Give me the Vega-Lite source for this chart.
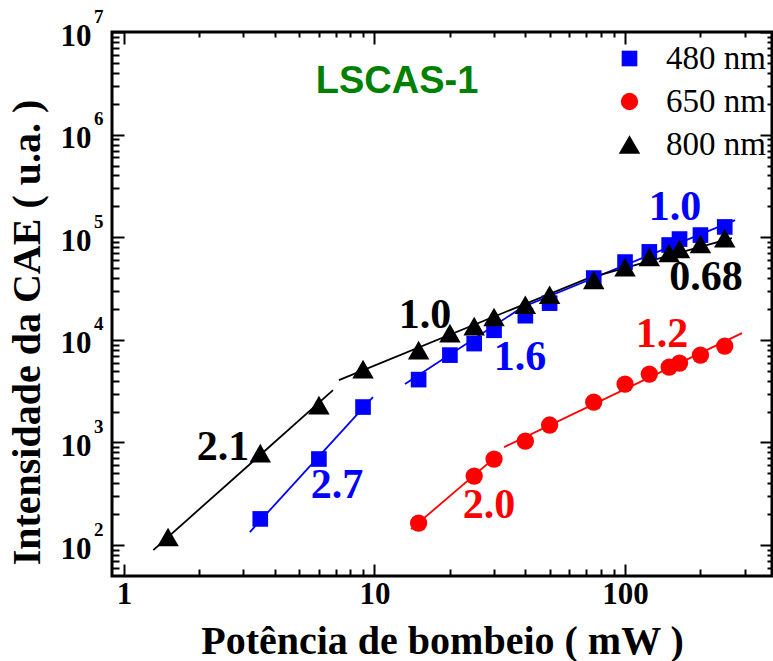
{
  "$schema": "https://vega.github.io/schema/vega-lite/v6.json",
  "width": 660,
  "height": 544,
  "autosize": {"type": "none"},
  "padding": {"left": 112, "top": 32, "right": 1, "bottom": 85},
  "background": "white",
  "config": {
    "view": {"stroke": "black", "strokeWidth": 3},
    "axis": {"grid": false, "domain": false, "tickColor": "black", "tickWidth": 2, "labelOverlap": false, "labelFlush": false},
    "legend": {"labelFont": "Liberation Serif", "labelFontSize": 33, "labelFontWeight": "normal", "labelColor": "black", "labelLimit": 300}
  },
  "datasets": {
    "points": [
      {"series": "480 nm", "P": 3.5, "I": 180},
      {"series": "480 nm", "P": 6, "I": 690},
      {"series": "480 nm", "P": 9, "I": 2215},
      {"series": "480 nm", "P": 15, "I": 4100},
      {"series": "480 nm", "P": 20, "I": 7100},
      {"series": "480 nm", "P": 25, "I": 9200},
      {"series": "480 nm", "P": 30, "I": 12400},
      {"series": "480 nm", "P": 40, "I": 17200},
      {"series": "480 nm", "P": 50, "I": 22800},
      {"series": "480 nm", "P": 75, "I": 40000},
      {"series": "480 nm", "P": 100, "I": 57300},
      {"series": "480 nm", "P": 125, "I": 72000},
      {"series": "480 nm", "P": 150, "I": 84000},
      {"series": "480 nm", "P": 165, "I": 96000},
      {"series": "480 nm", "P": 200, "I": 105000},
      {"series": "480 nm", "P": 250, "I": 126000},
      {"series": "650 nm", "P": 15, "I": 164},
      {"series": "650 nm", "P": 25, "I": 471},
      {"series": "650 nm", "P": 30, "I": 689},
      {"series": "650 nm", "P": 40, "I": 1030},
      {"series": "650 nm", "P": 50, "I": 1480},
      {"series": "650 nm", "P": 75, "I": 2475},
      {"series": "650 nm", "P": 100, "I": 3710},
      {"series": "650 nm", "P": 125, "I": 4640},
      {"series": "650 nm", "P": 150, "I": 5430},
      {"series": "650 nm", "P": 165, "I": 5940},
      {"series": "650 nm", "P": 200, "I": 7110},
      {"series": "650 nm", "P": 250, "I": 8700},
      {"series": "800 nm", "P": 1.5, "I": 120},
      {"series": "800 nm", "P": 3.5, "I": 788},
      {"series": "800 nm", "P": 6, "I": 2314},
      {"series": "800 nm", "P": 9, "I": 5190},
      {"series": "800 nm", "P": 15, "I": 7950},
      {"series": "800 nm", "P": 20, "I": 11640},
      {"series": "800 nm", "P": 25, "I": 13600},
      {"series": "800 nm", "P": 30, "I": 16700},
      {"series": "800 nm", "P": 40, "I": 22000},
      {"series": "800 nm", "P": 50, "I": 27500},
      {"series": "800 nm", "P": 75, "I": 38300},
      {"series": "800 nm", "P": 100, "I": 51000},
      {"series": "800 nm", "P": 125, "I": 64100},
      {"series": "800 nm", "P": 150, "I": 70100},
      {"series": "800 nm", "P": 165, "I": 76800},
      {"series": "800 nm", "P": 200, "I": 86000},
      {"series": "800 nm", "P": 250, "I": 98000}
    ],
    "fits": [
      {"series": "480 nm", "fit": "b1", "P": 3.18, "I": 134},
      {"series": "480 nm", "fit": "b1", "P": 9.86, "I": 2767},
      {"series": "480 nm", "fit": "b2", "P": 13.24, "I": 3707},
      {"series": "480 nm", "fit": "b2", "P": 38.9, "I": 20800},
      {"series": "480 nm", "fit": "b2", "P": 275, "I": 147000},
      {"series": "650 nm", "fit": "r1", "P": 14.0, "I": 143},
      {"series": "650 nm", "fit": "r1", "P": 31.7, "I": 788},
      {"series": "650 nm", "fit": "r2", "P": 32.9, "I": 902},
      {"series": "650 nm", "fit": "r2", "P": 293, "I": 11640},
      {"series": "800 nm", "fit": "k1", "P": 1.31, "I": 89.4},
      {"series": "800 nm", "fit": "k1", "P": 6.83, "I": 3240},
      {"series": "800 nm", "fit": "k2", "P": 7.21, "I": 4055},
      {"series": "800 nm", "fit": "k2", "P": 71, "I": 39800},
      {"series": "800 nm", "fit": "k2", "P": 267, "I": 98200}
    ],
    "slopes": [
      {"series": "480 nm", "P": 158.3, "I": 147100, "text": "1.0"},
      {"series": "800 nm", "P": 210.6, "I": 30580, "text": "0.68"},
      {"series": "800 nm", "P": 15.9, "I": 13030, "text": "1.0"},
      {"series": "480 nm", "P": 38.1, "I": 5078, "text": "1.6"},
      {"series": "650 nm", "P": 140.5, "I": 8508, "text": "1.2"},
      {"series": "800 nm", "P": 2.485, "I": 673.7, "text": "2.1"},
      {"series": "480 nm", "P": 7.085, "I": 287.1, "text": "2.7"},
      {"series": "650 nm", "P": 28.65, "I": 183.4, "text": "2.0"}
    ],
    "sample": [
      {"P": 12.3, "I": 2544000, "text": "LSCAS-1"}
    ]
  },
  "layer": [
    {
      "data": {"name": "fits"},
      "transform": [{"filter": "datum.series != '800 nm'"}],
      "mark": {"type": "line", "strokeWidth": 1.8},
      "encoding": {
        "x": {"field": "P", "type": "quantitative",
          "scale": {"type": "log", "domain": [0.896, 386], "nice": false},
          "axis": {"orient": "bottom", "values": [1, 10, 100], "tickSize": -12, "labelExpr": "datum.value + ''",
            "labelFont": "Liberation Serif", "labelFontWeight": "bold", "labelFontSize": 31, "labelColor": "black", "labelPadding": 15,
            "title": "Potência de bombeio ( mW )", "titleFont": "Liberation Serif", "titleFontWeight": "bold", "titleFontSize": 40, "titleColor": "black",
            "titleBaseline": "alphabetic", "titleX": 330, "titleY": 77}},
        "y": {"field": "I", "type": "quantitative",
          "scale": {"type": "log", "domain": [50, 10000000], "nice": false},
          "axis": {"orient": "left", "values": [100, 1000, 10000, 100000, 1000000, 10000000], "tickSize": -12,
            "labelExpr": "'10'", "labelBaseline": "alphabetic", "labelOffset": 13,
            "labelFont": "Liberation Serif", "labelFontWeight": "bold", "labelFontSize": 31, "labelColor": "black", "labelPadding": 33,
            "title": "Intensidade da CAE ( u.a. )", "titleFont": "Liberation Serif", "titleFontWeight": "bold", "titleFontSize": 40, "titleColor": "black",
            "titleBaseline": "alphabetic", "titleAngle": -90, "titleX": -73, "titleY": 300}},
        "color": {"field": "series", "type": "nominal",
          "scale": {"domain": ["480 nm", "650 nm", "800 nm"], "range": ["#0000ff", "#ff0000", "#000000"]}, "legend": null},
        "detail": {"field": "fit"}
      }
    },
    {
      "data": {"name": "fits"},
      "transform": [{"filter": "datum.series == '800 nm'"}],
      "mark": {"type": "line", "strokeWidth": 1.8},
      "encoding": {
        "x": {"field": "P", "type": "quantitative",
          "scale": {"type": "log", "domain": [0.896, 386], "nice": false}, "axis": null},
        "y": {"field": "I", "type": "quantitative",
          "scale": {"type": "log", "domain": [50, 10000000], "nice": false},
          "axis": {"orient": "left", "values": [100, 1000, 10000, 100000, 1000000, 10000000], "ticks": false,
            "labelExpr": "round(log(datum.value)/LN10) + ''", "labelBaseline": "alphabetic", "labelOffset": -10,
            "labelFont": "Liberation Serif", "labelFontWeight": "bold", "labelFontSize": 19, "labelColor": "black", "labelPadding": 9,
            "title": null}},
        "color": {"field": "series", "type": "nominal",
          "scale": {"domain": ["480 nm", "650 nm", "800 nm"], "range": ["#0000ff", "#ff0000", "#000000"]}, "legend": null},
        "detail": {"field": "fit"}
      }
    },
    {
      "data": {"name": "points"},
      "mark": {"type": "point", "filled": true, "opacity": 1},
      "encoding": {
        "x": {"field": "P", "type": "quantitative",
          "scale": {"type": "log", "domain": [0.896, 386], "nice": false},
          "axis": {"orient": "bottom", "values": [2, 3, 4, 5, 6, 7, 8, 9, 20, 30, 40, 50, 60, 70, 80, 90, 200, 300], "tickSize": -7, "labels": false, "title": null}},
        "y": {"field": "I", "type": "quantitative",
          "scale": {"type": "log", "domain": [50, 10000000], "nice": false},
          "axis": {"orient": "left", "values": [60, 70, 80, 90, 200, 300, 400, 500, 600, 700, 800, 900, 2000, 3000, 4000, 5000, 6000, 7000, 8000, 9000, 20000, 30000, 40000, 50000, 60000, 70000, 80000, 90000, 200000, 300000, 400000, 500000, 600000, 700000, 800000, 900000, 2000000, 3000000, 4000000, 5000000, 6000000, 7000000, 8000000, 9000000], "tickSize": -7, "labels": false, "title": null}},
        "color": {"field": "series", "type": "nominal",
          "scale": {"domain": ["480 nm", "650 nm", "800 nm"], "range": ["#0000ff", "#ff0000", "#000000"]},
          "legend": {"orient": "none", "legendX": 501, "legendY": 10, "title": null, "padding": 0,
            "labelFont": "Liberation Serif", "labelFontSize": 33, "labelColor": "black", "labelOffset": 20,
            "symbolSize": 270, "symbolStrokeWidth": 0, "rowPadding": 9}},
        "shape": {"field": "series", "type": "nominal",
          "scale": {"domain": ["480 nm", "650 nm", "800 nm"], "range": ["square", "circle", "triangle-up"]},
          "legend": {"orient": "none", "legendX": 501, "legendY": 10, "title": null, "padding": 0,
            "labelFont": "Liberation Serif", "labelFontSize": 33, "labelColor": "black", "labelOffset": 20,
            "symbolSize": 270, "symbolStrokeWidth": 0, "rowPadding": 9}},
        "size": {"field": "series", "type": "ordinal",
          "scale": {"type": "ordinal", "domain": ["480 nm", "650 nm", "800 nm"], "range": [245, 300, 460]}, "legend": null}
      }
    },
    {
      "data": {"name": "slopes"},
      "mark": {"type": "text", "font": "Liberation Serif", "fontWeight": "bold", "fontSize": 42, "align": "center", "baseline": "alphabetic"},
      "encoding": {
        "x": {"field": "P", "type": "quantitative",
          "scale": {"type": "log", "domain": [0.896, 386], "nice": false},
          "axis": {"orient": "top", "values": [1, 10, 100], "tickSize": -12, "labels": false, "title": null}},
        "y": {"field": "I", "type": "quantitative",
          "scale": {"type": "log", "domain": [50, 10000000], "nice": false},
          "axis": {"orient": "right", "values": [100, 1000, 10000, 100000, 1000000, 10000000], "tickSize": -12, "labels": false, "title": null}},
        "color": {"field": "series", "type": "nominal",
          "scale": {"domain": ["480 nm", "650 nm", "800 nm"], "range": ["#0000ff", "#ff0000", "#000000"]}, "legend": null},
        "text": {"field": "text"}
      }
    },
    {
      "data": {"name": "sample"},
      "mark": {"type": "text", "font": "Liberation Sans", "fontWeight": "bold", "fontSize": 38, "align": "center", "baseline": "alphabetic", "color": "#008000"},
      "encoding": {
        "x": {"field": "P", "type": "quantitative",
          "scale": {"type": "log", "domain": [0.896, 386], "nice": false},
          "axis": {"orient": "top", "values": [2, 3, 4, 5, 6, 7, 8, 9, 20, 30, 40, 50, 60, 70, 80, 90, 200, 300], "tickSize": -5, "labels": false, "title": null}},
        "y": {"field": "I", "type": "quantitative",
          "scale": {"type": "log", "domain": [50, 10000000], "nice": false},
          "axis": {"orient": "right", "values": [60, 70, 80, 90, 200, 300, 400, 500, 600, 700, 800, 900, 2000, 3000, 4000, 5000, 6000, 7000, 8000, 9000, 20000, 30000, 40000, 50000, 60000, 70000, 80000, 90000, 200000, 300000, 400000, 500000, 600000, 700000, 800000, 900000, 2000000, 3000000, 4000000, 5000000, 6000000, 7000000, 8000000, 9000000], "tickSize": -5, "labels": false, "title": null}},
        "text": {"field": "text"}
      }
    }
  ],
  "resolve": {
    "axis": {"x": "independent", "y": "independent"},
    "legend": {"color": "independent", "shape": "independent", "size": "independent"}
  }
}
